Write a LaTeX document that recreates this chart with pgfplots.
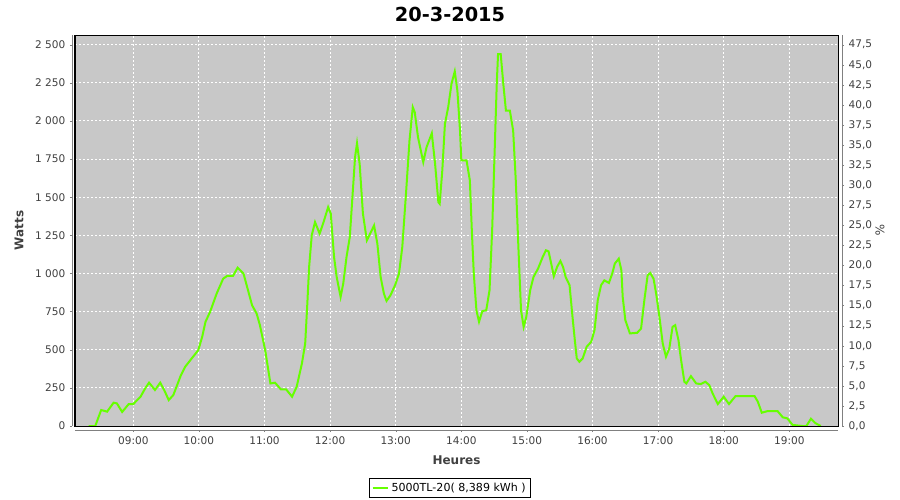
\documentclass[border=0pt]{standalone}
\usepackage{fontspec}
\setmainfont{DejaVu Sans}
\usepackage{pgfplots}
\pgfplotsset{compat=1.18}
\definecolor{plotbg}{RGB}{200,200,200}
\definecolor{pv}{RGB}{102,255,0}
\definecolor{axgray}{RGB}{128,128,128}
\definecolor{lab}{RGB}{64,64,64}

\pgfplotsset{
  chartbase/.style={
    at={(56.25pt,55.5pt)}, anchor=south west,
    scale only axis, width=572.25pt, height=293.25pt,
    xmin=8.111, xmax=19.742,
    axis line style={axgray,-},
    tick style={axgray},
    tick align=outside, major tick length=1.5pt,
    tick label style={font=\fontsize{7.9}{9}\selectfont, text=lab},
    label style={font=\bfseries\fontsize{9}{11}\selectfont, text=lab},
    /pgf/number format/assume math mode=true,
  }
}

\begin{document}
\begin{tikzpicture}
\path[use as bounding box] (0,0) rectangle (675pt,375pt);
\node[font=\bfseries\fontsize{14.5}{17}\selectfont] at (337.5pt,364.5pt) {20-3-2015};

\begin{axis}[
  chartbase,
  ymin=0, ymax=2563.6,
  axis lines*=left,
  axis x line shift=3pt, axis y line shift=2.25pt,
  axis background/.style={fill=plotbg},
  xtick={9,10,...,19},
  xticklabels={09:00,10:00,11:00,12:00,13:00,14:00,15:00,16:00,17:00,18:00,19:00},
  ytick={0,250,...,2500},
  yticklabel style={/pgf/number format/.cd, fixed, 1000 sep={\ }},
  grid=major,
  major grid style={white, line width=0.75pt, dash pattern=on 1.5pt off 1.5pt},
  xlabel={Heures},
  ylabel={Watts},
  xlabel style={at={(axis description cs:0.5,-0.0887)}, anchor=center},
  ylabel style={at={(axis description cs:-0.0734,0.5)}, anchor=center},
  legend style={at={(axis description cs:0.4915,-0.1586)}, anchor=center,
    draw=black, line width=0.75pt, font=\fontsize{8.3}{10}\selectfont,
    inner xsep=1.2pt, inner ysep=1.5pt},
  legend image code/.code={\draw[#1] (0pt,0pt) -- (11.5pt,0pt);},
  after end axis/.code={\draw[black, line width=0.75pt] (rel axis cs:0,0) rectangle (rel axis cs:1,1);},
]
\addplot[pv, line width=1.5pt] coordinates {
(8.32,0) (8.42,0) (8.51,105) (8.60,94) (8.70,153) (8.75,148) (8.83,92)
(8.93,144) (9.00,144) (9.11,192) (9.18,246) (9.24,284) (9.33,236)
(9.41,284) (9.47,236) (9.54,170) (9.61,203) (9.72,327) (9.79,388)
(9.89,443) (9.99,497) (10.05,585) (10.10,683) (10.17,748) (10.27,868)
(10.37,966) (10.43,984) (10.52,984) (10.59,1038) (10.68,999) (10.81,792)
(10.88,737) (10.93,661) (11.01,497) (11.09,279) (11.16,284) (11.25,240)
(11.33,240) (11.42,192) (11.49,257) (11.57,410) (11.62,541) (11.65,781)
(11.68,1043) (11.72,1250) (11.77,1337) (11.84,1261) (11.90,1337)
(11.97,1435) (12.01,1392) (12.06,1108) (12.10,977) (12.16,846)
(12.20,934) (12.25,1108) (12.30,1239) (12.34,1501) (12.38,1762)
(12.41,1854) (12.45,1719) (12.50,1392) (12.56,1217) (12.61,1261)
(12.67,1315) (12.72,1196) (12.77,977) (12.82,868) (12.86,820)
(12.92,857) (12.99,923) (13.05,999) (13.10,1173) (13.16,1545)
(13.21,1872) (13.26,2090) (13.29,2057) (13.34,1893) (13.42,1730)
(13.47,1828) (13.55,1919) (13.60,1719) (13.65,1468) (13.67,1457)
(13.71,1675) (13.75,1981) (13.80,2090) (13.85,2243) (13.90,2325)
(13.94,2199) (13.98,1937) (14.00,1741) (14.08,1741) (14.13,1610)
(14.16,1283) (14.19,999) (14.23,759) (14.27,683) (14.32,753)
(14.38,759) (14.43,890) (14.47,1283) (14.51,1828) (14.54,2243)
(14.56,2439) (14.60,2439) (14.64,2243) (14.68,2068) (14.74,2068)
(14.79,1937) (14.83,1610) (14.87,1173) (14.91,759) (14.95,650)
(14.99,715) (15.05,890) (15.10,977) (15.17,1032) (15.24,1108)
(15.29,1152) (15.33,1145) (15.37,1065) (15.41,982) (15.46,1043)
(15.51,1082) (15.55,1043) (15.59,977) (15.65,923) (15.69,737)
(15.73,563) (15.76,443) (15.80,421) (15.85,443) (15.91,519)
(15.98,552) (16.03,628) (16.08,825) (16.13,923) (16.18,955)
(16.25,938) (16.30,999) (16.34,1065) (16.40,1097) (16.44,1021)
(16.46,846) (16.50,694) (16.57,607) (16.68,611) (16.74,639)
(16.79,825) (16.84,988) (16.88,1003) (16.93,966) (16.97,868)
(17.02,715) (17.07,541) (17.12,454) (17.17,508) (17.22,650)
(17.26,661) (17.31,563) (17.35,432) (17.40,290) (17.43,279)
(17.50,327) (17.58,279) (17.65,275) (17.72,290) (17.78,268)
(17.83,214) (17.91,144) (18.00,192) (18.08,144) (18.18,196)
(18.29,196) (18.47,196) (18.52,159) (18.58,87) (18.67,98)
(18.82,98) (18.90,57) (18.97,50) (19.05,7) (19.20,0) (19.26,0)
(19.33,48) (19.40,18) (19.48,0)
};
\addlegendentry{5000TL-20( 8,389 kWh )}
\end{axis}

\begin{axis}[
  chartbase,
  ymin=0, ymax=48.71,
  hide x axis,
  axis y line*=right,
  axis y line shift=3pt,
  ytick={0,2.5,...,47.5},
  yticklabel style={/pgf/number format/.cd, fixed, fixed zerofill, precision=1, use comma},
  ylabel={\%},
  ylabel style={at={(axis description cs:1.055,0.5)}, anchor=center, rotate=180, font=\fontsize{9}{11}\selectfont},
]
\end{axis}
\end{tikzpicture}
\end{document}
